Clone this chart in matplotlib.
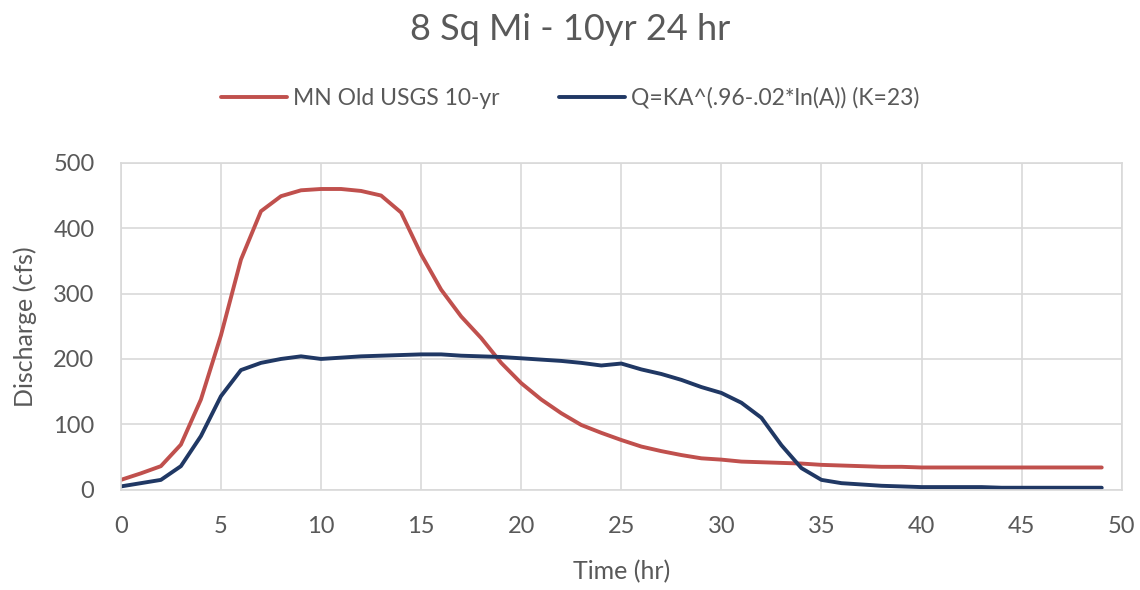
import matplotlib
matplotlib.use("Agg")
import matplotlib.pyplot as plt

plt.rcParams['font.family'] = ['Lato', 'DejaVu Sans']

time_hr = list(range(0, 50))
red_label = "MN Old USGS 10-yr"
blue_label = "Q=KA^(.96-.02*ln(A)) (K=23)"
red_q = [15, 25, 36, 69, 138, 236, 352, 426, 449, 458, 460, 460, 457, 450, 424, 360,
         306, 265, 232, 194, 163, 138, 117, 99, 87, 76, 66, 59, 53, 48, 46, 43,
         42, 41, 40, 38, 37, 36, 35, 35, 34, 34, 34, 34, 34, 34, 34, 34, 34, 34]
blue_q = [5, 10, 15, 36, 82, 143, 183, 194, 200, 204, 200, 202, 204, 205, 206, 207,
          207, 205, 204, 203, 201, 199, 197, 194, 190, 193, 184, 177, 168, 157, 148, 133,
          110, 68, 33, 15, 10, 8, 6, 5, 4, 4, 4, 4, 3, 3, 3, 3, 3, 3]
x_ticks = list(range(0, 51, 5))
y_ticks = list(range(0, 501, 100))

fig = plt.figure(figsize=(11.4, 5.9), dpi=100)
ax = fig.add_axes([0.106, 0.170, 0.878, 0.554])
txt = '#595959'
grid = '#D9D9D9'
ax.plot(time_hr, red_q, color='#C0504D', lw=2.8, label=red_label, solid_capstyle='round')
ax.plot(time_hr, blue_q, color='#203864', lw=2.8, label=blue_label, solid_capstyle='round')
ax.set_xlim(0, 50)
ax.set_ylim(0, 500)
ax.set_xticks(x_ticks)
ax.set_yticks(y_ticks)
ax.grid(True, color=grid, lw=1.2)
ax.set_axisbelow(True)
for s in ax.spines.values():
    s.set_color(grid)
    s.set_linewidth(1.2)
ax.tick_params(length=0, colors=txt, labelsize=17)
ax.tick_params(axis='x', pad=19)
ax.tick_params(axis='y', pad=19)
ax.set_xlabel("Time (hr)", fontsize=18, color=txt, va='center')
ax.xaxis.set_label_coords(0.5, -0.251)
ax.set_ylabel("Discharge (cfs)", fontsize=18, color=txt, va='center')
ax.yaxis.set_label_coords(-0.096, 0.5)
fig.text(0.5, 1 - 40 / 590, "8 Sq Mi - 10yr 24 hr", ha='center', va='baseline', fontsize=26, color=txt)
leg = fig.legend(loc='center', bbox_to_anchor=(0.5, 1 - 98 / 590), ncol=2, frameon=False,
                 fontsize=16.5, handlelength=2.9, handletextpad=0.25, columnspacing=2.6)
for t in leg.get_texts():
    t.set_color(txt)
fig.savefig("out.png", dpi=100)
